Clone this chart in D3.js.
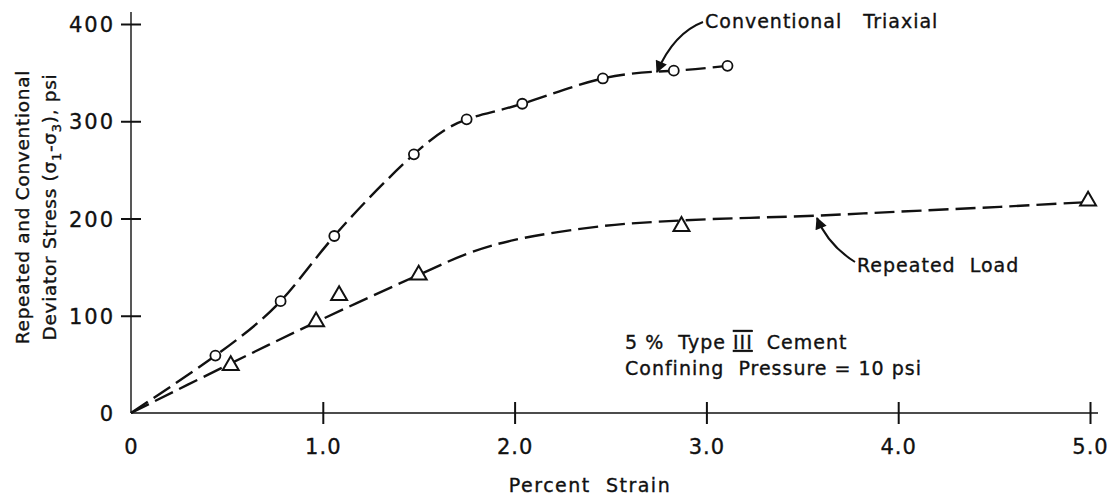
<!DOCTYPE html>
<html>
<head>
<meta charset="utf-8">
<script src="https://cdn.jsdelivr.net/npm/d3@7"></script>
<style>
  html, body { margin: 0; padding: 0; background: #fff; }
  svg text { font-family: "DejaVu Sans", sans-serif; fill: #111; stroke: #111; stroke-width: 0.35; }
</style>
</head>
<body>
<svg id="chart" width="1113" height="501"></svg>
<script>
// ---- data ----
const xTicks = [0, 1, 2, 3, 4, 5];
const xTickLabels = ["0", "1.0", "2.0", "3.0", "4.0", "5.0"];
const yTicks = [0, 100, 200, 300, 400];
const yTickLabels = ["0", "100", "200", "300", "400"];

// Conventional triaxial test points (circles)
const convStrain = [0.44, 0.78, 1.06, 1.475, 1.75, 2.04, 2.46, 2.83, 3.11];
const convStress = [59, 115, 182, 266, 302, 318, 344, 352, 357];

// Repeated load test points (triangles)
const repStrain = [0.52, 0.965, 1.085, 1.50, 2.87, 4.99];
const repStress = [49, 94, 121, 142, 192, 218];

// Faired dashed curve through repeated-load data
const repCurveStrain = [0, 0.5, 0.97, 1.5, 1.77, 2.0, 2.45, 2.87, 3.58, 4.0, 4.53, 5.0];
const repCurveStress = [0, 49, 94, 142, 165, 178, 192, 198, 203, 207, 212, 217];

// ---- drawing ----
const svg = d3.select("#chart");
const x = d3.scaleLinear().domain([0, 5]).range([131, 1090]);
const y = d3.scaleLinear().domain([0, 400]).range([413, 24]);
const ink = "#111";

// axes lines
svg.append("line").attr("x1", x(0)).attr("x2", x(5) + 8).attr("y1", y(0)).attr("y2", y(0))
  .attr("stroke", ink).attr("stroke-width", 1.6);
svg.append("line").attr("x1", x(0)).attr("x2", x(0)).attr("y1", y(0)).attr("y2", y(400) - 12)
  .attr("stroke", ink).attr("stroke-width", 1.4);

// x axis
const xAxis = d3.axisBottom(x).tickValues(xTicks).tickSize(0).tickPadding(0)
  .tickFormat((d, i) => xTickLabels[i]);
const gx = svg.append("g").attr("transform", `translate(0,${y(0)})`).call(xAxis);
gx.select(".domain").remove();
gx.selectAll(".tick text").attr("y", 41).attr("dy", 0).attr("font-size", 21)
  .attr("font-family", "DejaVu Sans").attr("fill", ink).attr("letter-spacing", 1);
gx.selectAll(".tick").filter(d => d > 0).append("line")
  .attr("y1", -11).attr("y2", 11).attr("stroke", ink).attr("stroke-width", 2);

// y axis
const yAxis = d3.axisLeft(y).tickValues(yTicks).tickSize(0).tickPadding(0)
  .tickFormat((d, i) => yTickLabels[i]);
const gy = svg.append("g").attr("transform", `translate(${x(0)},0)`).call(yAxis);
gy.select(".domain").remove();
gy.selectAll(".tick text").attr("x", -16).attr("dy", "0.36em").attr("font-size", 21)
  .attr("font-family", "DejaVu Sans").attr("fill", ink).attr("letter-spacing", 2);
gy.selectAll(".tick").filter(d => d > 0).append("line")
  .attr("x1", -10).attr("x2", 10).attr("stroke", ink).attr("stroke-width", 2);

// axis titles
svg.append("text").attr("x", 590).attr("y", 492).attr("text-anchor", "middle")
  .attr("font-size", 19).attr("letter-spacing", 1.5).attr("xml:space", "preserve").text("Percent  Strain");

const yt = svg.append("g").attr("transform", "translate(0,207) rotate(-90)");
yt.append("text").attr("x", 0).attr("y", 29).attr("text-anchor", "middle")
  .attr("font-size", 18.5).attr("letter-spacing", 0.7).text("Repeated and Conventional");
const t2 = yt.append("text").attr("x", 0).attr("y", 56).attr("text-anchor", "middle")
  .attr("font-size", 18.5).attr("letter-spacing", 0.7);
t2.append("tspan").text("Deviator Stress (σ");
t2.append("tspan").attr("font-size", 13).attr("dy", 5).text("1");
t2.append("tspan").attr("dy", -5).text("-σ");
t2.append("tspan").attr("font-size", 13).attr("dy", 5).text("3");
t2.append("tspan").attr("dy", -5).text("), psi");

// curves
const lineConv = d3.line().x(d => x(d[0])).y(d => y(d[1])).curve(d3.curveNatural);
const lineRep = d3.line().x(d => x(d[0])).y(d => y(d[1])).curve(d3.curveCatmullRom.alpha(0.5));
const convPts = [[0, 0]].concat(convStrain.map((s, i) => [s, convStress[i]]));
const repPts = repCurveStrain.map((s, i) => [s, repCurveStress[i]]);

svg.append("path").attr("d", lineConv(convPts)).attr("fill", "none").attr("stroke", ink)
  .attr("stroke-width", 2.4).attr("stroke-dasharray", "20,7");
svg.append("path").attr("d", lineRep(repPts)).attr("fill", "none").attr("stroke", ink)
  .attr("stroke-width", 2.4).attr("stroke-dasharray", "20,7");

// markers
svg.selectAll("circle.conv").data(convStrain).join("circle").attr("class", "conv")
  .attr("cx", d => x(d)).attr("cy", (d, i) => y(convStress[i])).attr("r", 5)
  .attr("fill", "#fff").attr("stroke", ink).attr("stroke-width", 1.8);

const tri = d3.symbol().type(d3.symbolTriangle).size(110);
svg.selectAll("path.rep").data(repStrain).join("path").attr("class", "rep")
  .attr("d", tri).attr("transform", (d, i) => `translate(${x(d)},${y(repStress[i])})`)
  .attr("fill", "#fff").attr("stroke", ink).attr("stroke-width", 2);

// annotation arrows
const defs = svg.append("defs");
defs.append("marker").attr("id", "ah").attr("viewBox", "0 0 10 10").attr("refX", 9).attr("refY", 5)
  .attr("markerWidth", 8).attr("markerHeight", 6).attr("orient", "auto")
  .attr("markerUnits", "strokeWidth")
  .append("path").attr("d", "M0,0 L10,5 L0,10 z").attr("fill", ink);

svg.append("path").attr("d", "M703,22 Q674,33 657,72").attr("fill", "none")
  .attr("stroke", ink).attr("stroke-width", 2).attr("marker-end", "url(#ah)");
svg.append("path").attr("d", "M855,262 Q828,245 817,218").attr("fill", "none")
  .attr("stroke", ink).attr("stroke-width", 2).attr("marker-end", "url(#ah)");

// annotation texts
svg.append("text").attr("x", 705).attr("y", 28).attr("font-size", 19).attr("letter-spacing", 1)
  .attr("xml:space", "preserve").text("Conventional   Triaxial");
svg.append("text").attr("x", 857).attr("y", 272).attr("font-size", 19).attr("letter-spacing", 1)
  .attr("xml:space", "preserve").text("Repeated  Load");
const t5 = svg.append("text").attr("x", 625).attr("y", 349).attr("font-size", 19).attr("letter-spacing", 1)
  .attr("xml:space", "preserve");
t5.append("tspan").text("5 %  Type ");
t5.append("tspan").style("text-decoration", "underline overline").text("III");
t5.append("tspan").text("  Cement");
svg.append("text").attr("x", 625).attr("y", 375).attr("font-size", 19).attr("letter-spacing", 1)
  .attr("xml:space", "preserve").text("Confining  Pressure = 10 psi");
</script>
</body>
</html>
